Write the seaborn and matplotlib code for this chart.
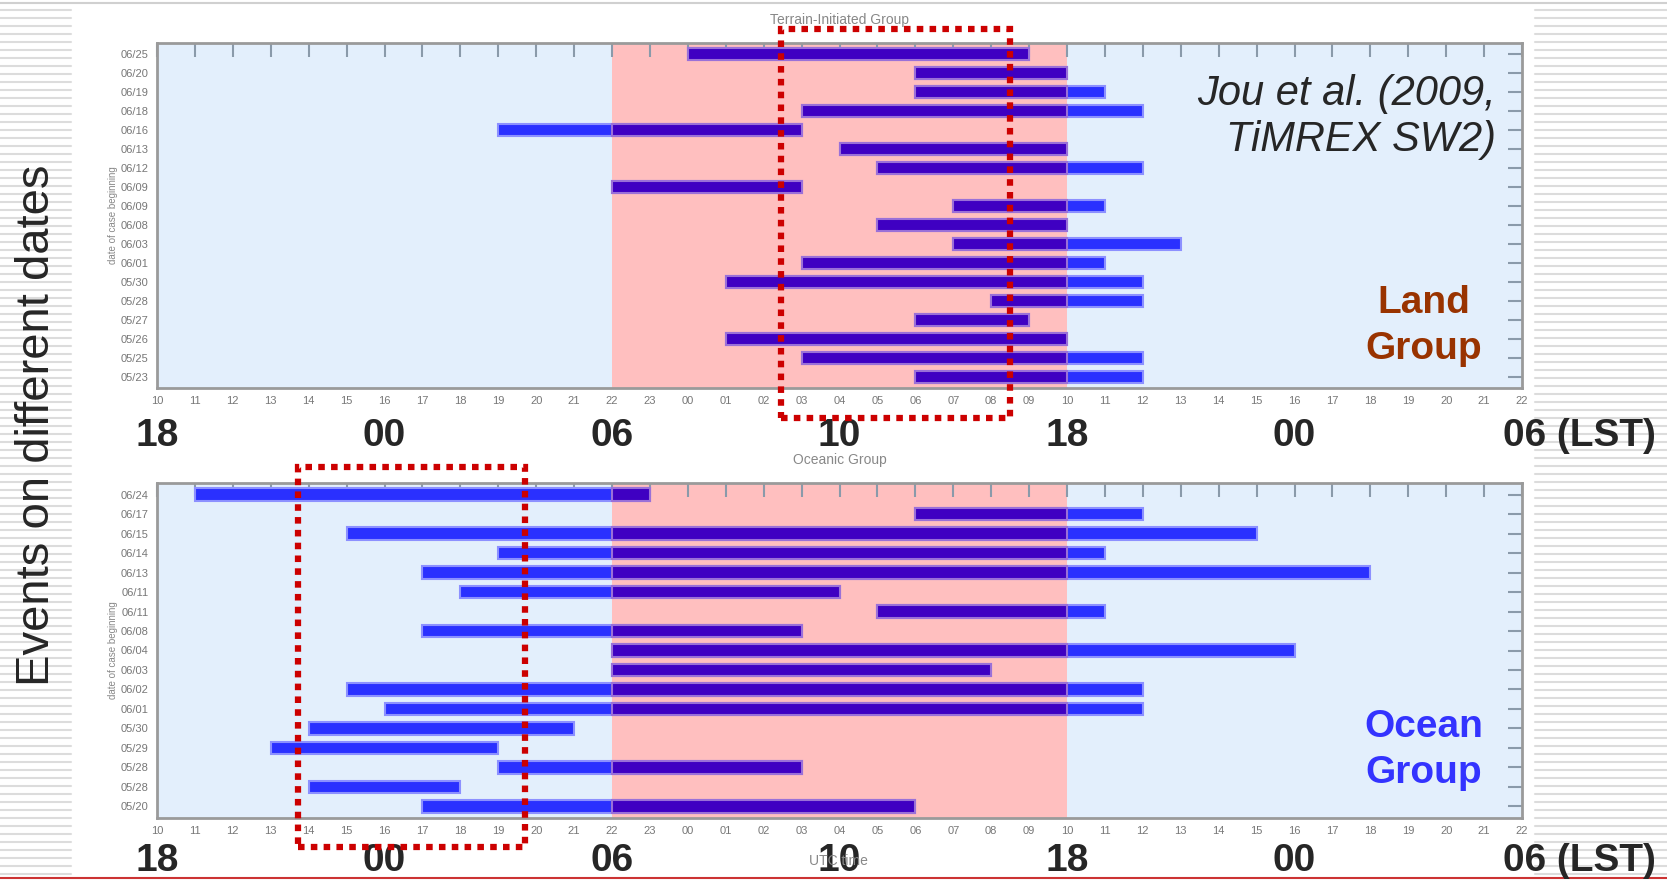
import numpy as np
import matplotlib.pyplot as plt
import matplotlib.transforms as mtransforms
from matplotlib.patches import Rectangle
from matplotlib.lines import Line2D
import seaborn as sns

# hours after 10 UTC (0 = 10 UTC, 36 = 22 UTC next day)
land_dates = ["06/25", "06/20", "06/19", "06/18", "06/16", "06/13", "06/12", "06/09", "06/09",
              "06/08", "06/03", "06/01", "05/30", "05/28", "05/27", "05/26", "05/25", "05/23"]
land_start = [14, 20, 20, 17, 9, 18, 19, 12, 21, 19, 21, 17, 15, 22, 20, 15, 17, 20]
land_end = [23, 24, 25, 26, 17, 24, 26, 17, 25, 24, 27, 25, 26, 26, 23, 24, 26, 26]

ocean_dates = ["06/24", "06/17", "06/15", "06/14", "06/13", "06/11", "06/11", "06/08", "06/04",
               "06/03", "06/02", "06/01", "05/30", "05/29", "05/28", "05/28", "05/20"]
ocean_start = [1, 20, 5, 9, 7, 8, 19, 7, 12, 12, 5, 6, 4, 3, 9, 4, 7]
ocean_end = [13, 26, 29, 25, 32, 18, 25, 17, 30, 22, 26, 26, 11, 9, 17, 8, 20]

utc_labels = ["10", "11", "12", "13", "14", "15", "16", "17", "18", "19", "20", "21", "22", "23",
              "00", "01", "02", "03", "04", "05", "06", "07", "08", "09", "10", "11", "12", "13",
              "14", "15", "16", "17", "18", "19", "20", "21", "22"]
lst_pos = [0, 6, 12, 18, 24, 30]
lst_labels = ["18", "00", "06", "10", "18", "00"]
day_start, day_end = 12, 24

sns.set_theme(style="white")
plt.rcParams['font.family'] = ['Liberation Sans', 'DejaVu Sans']

W, H = 1667, 881
fig = plt.figure(figsize=(W / 100, H / 100), dpi=100)

# slide decoration
for y in np.arange(10, H, 8):
    fig.add_artist(Line2D([0, 71 / W], [1 - y / H] * 2, color="#dcdcdc", lw=1.5,
                          transform=fig.transFigure, zorder=-1))
    fig.add_artist(Line2D([1535 / W, 1], [1 - y / H] * 2, color="#dcdcdc", lw=1.5,
                          transform=fig.transFigure, zorder=-1))
fig.add_artist(Line2D([0, 1], [1 - 3 / H] * 2, color="#d0d0d0", lw=1.5, transform=fig.transFigure, zorder=-1))
fig.add_artist(Line2D([0, 1], [1 - 878 / H] * 2, color="#cc3333", lw=1.5, transform=fig.transFigure, zorder=-1))

ax1 = fig.add_axes([157 / W, 1 - 388 / H, (1522 - 157) / W, (388 - 43) / H])
ax2 = fig.add_axes([157 / W, 1 - 818 / H, (1522 - 157) / W, (818 - 483) / H])

blue, purple = "#2a30ff", "#3f00c2"


def draw_panel(ax, dates, start, end, title):
    start = np.array(start, float)
    end = np.array(end, float)
    y = np.arange(len(dates))
    ax.set_facecolor("#e3effc")
    ax.axvspan(day_start, day_end, color="#ffbfbf", zorder=0, lw=0)
    ax.barh(y, end - start, left=start, height=0.64, color=blue,
            edgecolor="#8c90ff", linewidth=1.5, zorder=2)
    s2 = np.clip(start, day_start, day_end)
    e2 = np.clip(end, day_start, day_end)
    m = e2 > s2
    ax.barh(y[m], (e2 - s2)[m], left=s2[m], height=0.64, color=purple,
            edgecolor="#9a70d8", linewidth=1.5, zorder=3)
    ax.set_xlim(0, 36)
    ax.set_ylim(len(dates) - 0.4, -0.6)
    ax.set_xticks(range(37))
    ax.set_xticklabels(utc_labels)
    ax.set_yticks(y)
    ax.set_yticklabels(dates)
    ax.tick_params(axis="both", direction="in", length=10, width=1.5, color="#8a9aaa",
                   top=True, right=True, labelsize=8, labelcolor="#777777", pad=6)
    for s in ax.spines.values():
        s.set_color("#9a9a9a")
        s.set_linewidth(2)
        s.set_zorder(5)
    ax.set_title(title, fontsize=10, color="#888888", pad=14)
    ax.set_ylabel("date of case beginning", fontsize=7, color="#888888", labelpad=2)


draw_panel(ax1, land_dates, land_start, land_end, "Terrain-Initiated Group")
draw_panel(ax2, ocean_dates, ocean_start, ocean_end, "Oceanic Group")

fig.text(838 / W, 1 - 861 / H, "UTC time", fontsize=10, color="#888888", ha="center", va="center")

big = dict(fontsize=28, fontweight="bold", ha="center", va="center",
           family=["Liberation Sans Narrow", "DejaVu Sans Condensed", "Liberation Sans"])
for ax, ypix in [(ax1, 436), (ax2, 861)]:
    tr = mtransforms.blended_transform_factory(ax.transData, fig.transFigure)
    for p, lab in zip(lst_pos, lst_labels):
        ax.text(p, 1 - ypix / H, lab, transform=tr, **big)
    ax.text(35.5, 1 - ypix / H, "06 (LST)", transform=tr, **{**big, "ha": "left"})

fig.text(37 / W, 1 - 425 / H, "Events on different dates", rotation=90, fontsize=34,
         ha="center", va="center")
fig.text(1496 / W, 1 - 117 / H, "Jou et al. (2009,\nTiMREX SW2)", fontsize=30, style="italic",
         ha="right", va="center", multialignment="right", linespacing=1.22)
fig.text(1424 / W, 1 - 326 / H, "Land\nGroup", fontsize=28, fontweight="bold", color="#993300",
         ha="center", va="center", linespacing=1.35)
fig.text(1424 / W, 1 - 750 / H, "Ocean\nGroup", fontsize=28, fontweight="bold", color="#3333ff",
         ha="center", va="center", linespacing=1.35)

# highlighted time windows
for x0, x1, y0, y1 in [(781, 1010, 29, 418), (298, 525, 467, 847)]:
    fig.add_artist(Rectangle((x0 / W, 1 - y1 / H), (x1 - x0) / W, (y1 - y0) / H, fill=False,
                             edgecolor="#cc0000", lw=4.5, linestyle=(0, (1.05, 1.0)),
                             transform=fig.transFigure, zorder=10))

fig.savefig("out.png", dpi=100)
